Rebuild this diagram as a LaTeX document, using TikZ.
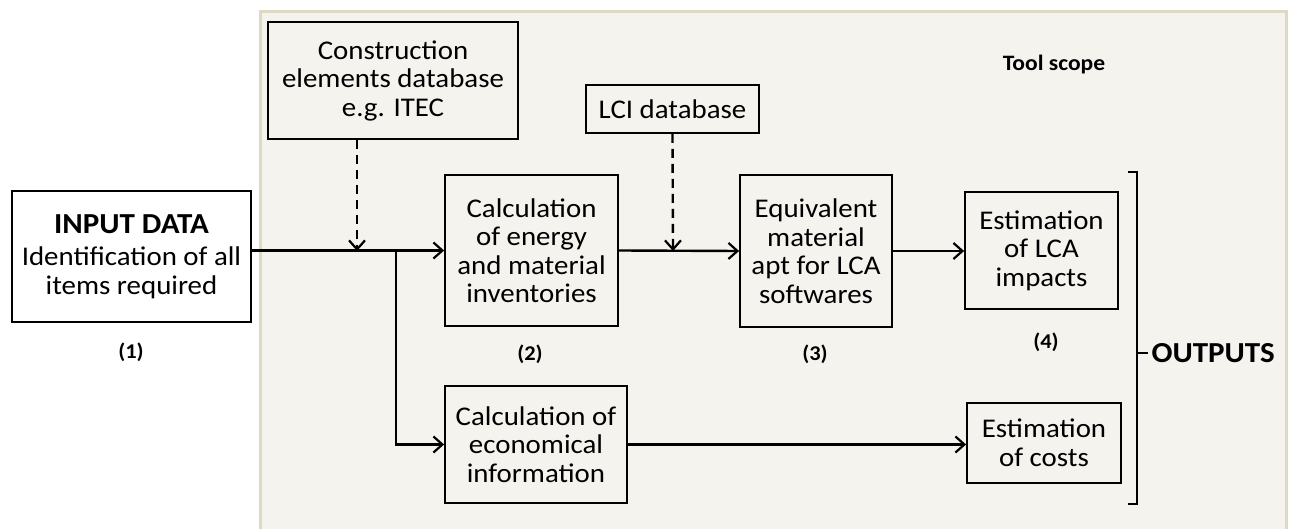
\documentclass[tikz,border=0pt]{standalone}
\usepackage{fontspec}
\setmainfont{Carlito}[FakeStretch=1.07]
\usetikzlibrary{arrows.meta}
\definecolor{scopefill}{HTML}{F4F3EE}
\definecolor{scopeedge}{HTML}{DDD9C3}
\begin{document}
\begin{tikzpicture}[x=1pt,y=-1pt,
  box/.style={draw,line width=1.8pt,align=center,inner sep=0pt,font=\fontsize{27}{28.5}\selectfont},
  conn/.style={line width=2.4pt,-{Straight Barb[length=9pt,width=16pt,line width=2.2pt]}},
  dconn/.style={conn,dash pattern=on 9pt off 6pt},
  num/.style={font=\bfseries\fontsize{21}{24}\selectfont},
  lbl/.style={font=\bfseries\fontsize{22}{26}\selectfont}]
\useasboundingbox (0,0) rectangle (1291,529);
\fill[scopefill] (260,12) rectangle (1286,540);
\draw[scopeedge,line width=3pt] (260,540) -- (260,12) -- (1286,12) -- (1286,540);
\node[lbl] (scope) at (1054,65) {Tool scope};

\node[box,minimum width=239pt,minimum height=131pt] (input) at (131.5,256.5)
  {{\bfseries\fontsize{29}{32}\selectfont INPUT DATA}\\[4pt]Identification of all\\items required};
\node[box,minimum width=250pt,minimum height=117pt] (cons) at (393,80.5)
  {Construction\\elements database\\e.g. ITEC};
\node[box,minimum width=173pt,minimum height=151pt] (calc) at (531.5,250.5)
  {Calculation\\of energy\\and material\\inventories};
\node[box,minimum width=173pt,minimum height=48pt] (lci) at (672.5,109) {LCI database};
\node[box,minimum width=152pt,minimum height=152pt] (equiv) at (816,251)
  {Equivalent\\material\\apt for LCA\\softwares};
\node[box,minimum width=153pt,minimum height=117pt] (lca) at (1041.5,250.5)
  {Estimation\\of LCA\\impacts};
\node[box,minimum width=182pt,minimum height=117pt] (econ) at (536,444.5)
  {Calculation of\\economical\\information};
\node[box,minimum width=154pt,minimum height=80pt] (costs) at (1044,443)
  {Estimation\\of costs};

\node[num] (n1) at (131,352) {(1)};
\node[num] (n2) at (530,354) {(2)};
\node[num] (n3) at (815,354) {(3)};
\node[num] (n4) at (1046,342) {(4)};

\coordinate (d1) at (357,251);
\coordinate (br) at (396,251);
\coordinate (d2) at (673,251);

\draw[conn] (input.east |- calc.west) -- (calc.west);
\draw[dconn] (cons.south -| d1) -- (d1);
\draw[conn] (br) |- (econ.west);
\draw[conn] (calc.east) -- (equiv.west);
\draw[dconn] (lci.south) -- (d2);
\draw[conn] (equiv.east) -- (lca.west |- equiv.east);
\draw[conn] (econ.east) -- (costs.west |- econ.east);

\coordinate (bt) at (1137,172);
\coordinate (bb) at (1137,504);
\coordinate (bm) at (1137,353);
\draw[line width=2.4pt] ([xshift=-9pt]bt) -- (bt) -- (bb) -- ([xshift=-9pt]bb);
\node[font=\bfseries\fontsize{29}{34}\selectfont,anchor=west] (outputs) at (1148,353) {OUTPUTS};
\draw[line width=2.4pt] (bm) -- (outputs.west);
\end{tikzpicture}
\end{document}
